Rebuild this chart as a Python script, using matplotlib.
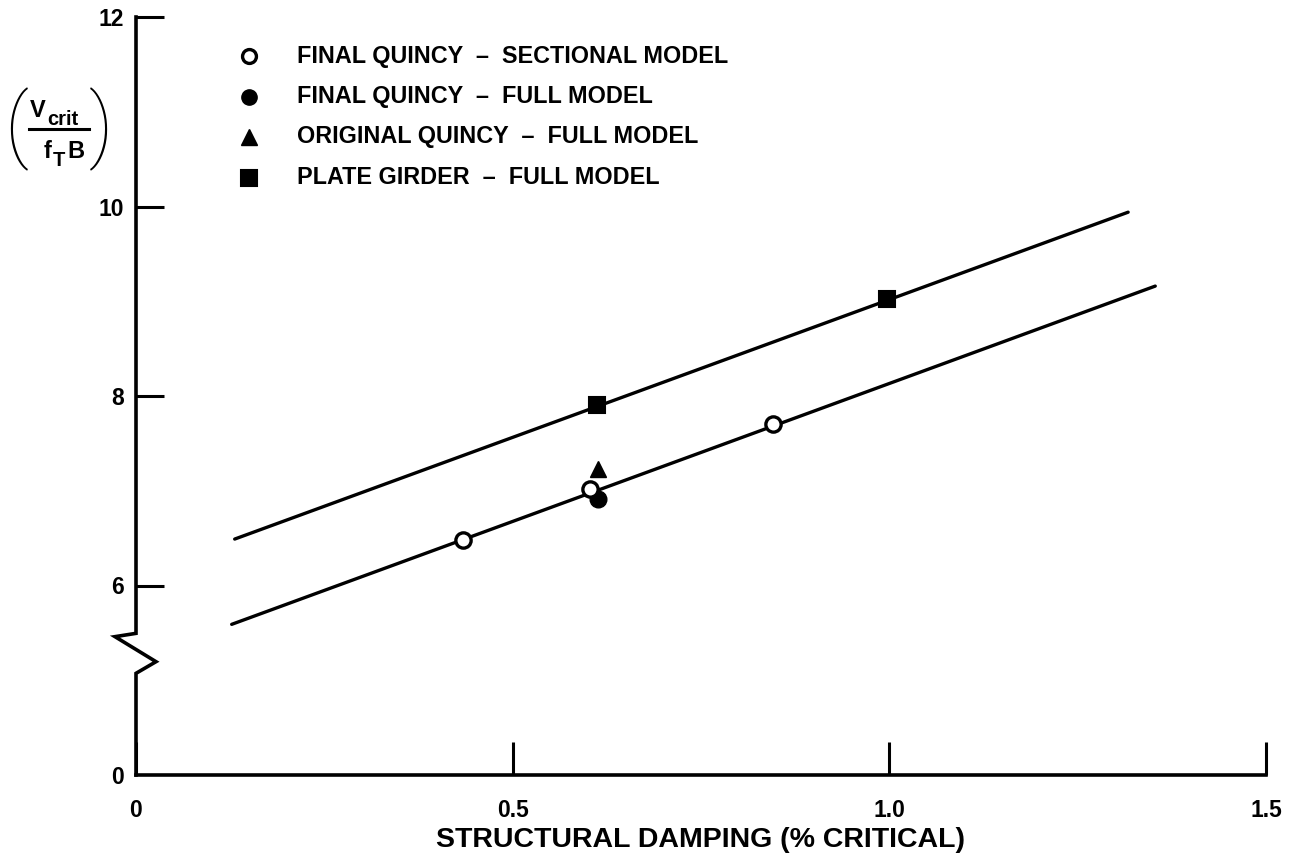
import matplotlib
matplotlib.use("Agg")
import matplotlib.pyplot as plt
from matplotlib.lines import Line2D

plt.rcParams['font.family'] = ['Liberation Sans', 'DejaVu Sans']
plt.rcParams['font.weight'] = 'bold'

# ---- data ----
sect_x = [0.434, 0.603, 0.846]
sect_y = [6.48, 7.02, 7.70]
full_x = [0.613]
full_y = [6.91]
orig_x = [0.613]
orig_y = [7.23]
plate_x = [0.612, 0.997]
plate_y = [7.91, 9.02]

upper_x = [0.131, 1.317]
upper_y = [6.49, 9.94]
lower_x = [0.127, 1.353]
lower_y = [5.59, 9.16]

xticks = [0, 0.5, 1.0, 1.5]
xtick_labels = ['0', '0.5', '1.0', '1.5']
yticks = [4, 6, 8, 10, 12]
ytick_labels = ['0', '6', '8', '10', '12']

labels = ['FINAL QUINCY  \u2013  SECTIONAL MODEL',
          'FINAL QUINCY  \u2013  FULL MODEL',
          'ORIGINAL QUINCY  \u2013  FULL MODEL',
          'PLATE GIRDER  \u2013  FULL MODEL']

W, H = 1294, 858
def fx(x):
    return x / W
def fy(y):
    return 1 - y / H

fig = plt.figure(figsize=(W / 100, H / 100), dpi=100)
ax = fig.add_axes([fx(136), fy(775), (1266 - 136) / W, (775 - 17) / H])
ax.set_xlim(0, 1.5)
ax.set_ylim(4, 12)

# fitted lines
ax.plot(upper_x, upper_y, color='black', lw=2.4, solid_capstyle='round')
ax.plot(lower_x, lower_y, color='black', lw=2.4, solid_capstyle='round')

# marker styles
st_sect = dict(marker='o', ms=11, mfc='white', mec='black', mew=2.4)
st_full = dict(marker='o', ms=12, mfc='black', mec='black')
st_orig = dict(marker='^', ms=12, mfc='black', mec='black')
st_plate = dict(marker='s', ms=12, mfc='black', mec='black', mew=1.5)

ax.plot(sect_x, sect_y, ls='none', zorder=4, **st_sect)
ax.plot(full_x, full_y, ls='none', zorder=3, **st_full)
ax.plot(orig_x, orig_y, ls='none', zorder=3, **st_orig)
ax.plot(plate_x, plate_y, ls='none', zorder=3, **st_plate)

# spines
for s in ['top', 'right', 'left']:
    ax.spines[s].set_visible(False)
ax.spines['bottom'].set_linewidth(2.6)

# left spine with axis break (zigzag)
px = 1130 / 1.5
bx = [0, 0, -21 / px, 20 / px, 0, 0]
by = [12, 5.495, 5.46, 5.196, 5.073, 4]
ax.plot(bx, by, color='black', lw=2.6, clip_on=False, solid_joinstyle='miter')

ax.set_xticks(xticks)
ax.set_xticklabels(xtick_labels)
ax.set_yticks(yticks)
ax.set_yticklabels(ytick_labels)
ax.tick_params(axis='x', direction='in', length=24, width=2.2, labelsize=16.5, pad=17)
ax.tick_params(axis='y', direction='in', length=20, width=2.2, labelsize=16.5, pad=9)
ax.yaxis.get_major_ticks()[0].tick1line.set_visible(False)

fig.text(fx(701), fy(840), 'STRUCTURAL DAMPING (% CRITICAL)', fontsize=20.5,
         weight='bold', ha='center', va='center')

# y label: (V_crit / f_T B)
fig.text(fx(30), fy(117), 'V', fontsize=17, ha='left', va='baseline')
fig.text(fx(47), fy(125), 'crit', fontsize=14.5, ha='left', va='baseline')
fig.add_artist(Line2D([fx(29), fx(89)], [fy(128.5), fy(128.5)], color='black',
                      lw=2.2, transform=fig.transFigure))
fig.text(fx(44), fy(158), 'f', fontsize=17, ha='left', va='baseline')
fig.text(fx(53), fy(166), 'T', fontsize=14.5, ha='left', va='baseline')
fig.text(fx(67), fy(158), 'B', fontsize=17, ha='left', va='baseline')
fig.text(fx(16), fy(129), '(', fontsize=58, family='Roboto', weight='light',
         ha='center', va='center')
fig.text(fx(101), fy(129), ')', fontsize=58, family='Roboto', weight='light',
         ha='center', va='center')

# legend (placed manually)
styles = [st_sect, st_full, st_orig, st_plate]
for i, (lab, st) in enumerate(zip(labels, styles)):
    y = 56 + 40.5 * i
    st2 = dict(st)
    st2['ms'] = st['ms'] - 1
    fig.add_artist(Line2D([fx(249)], [fy(y)], ls='none', transform=fig.transFigure, **st2))
    fig.text(fx(297), fy(y), lab, fontsize=16.8, weight='bold', ha='left', va='center')

fig.savefig('out.png', dpi=100)
